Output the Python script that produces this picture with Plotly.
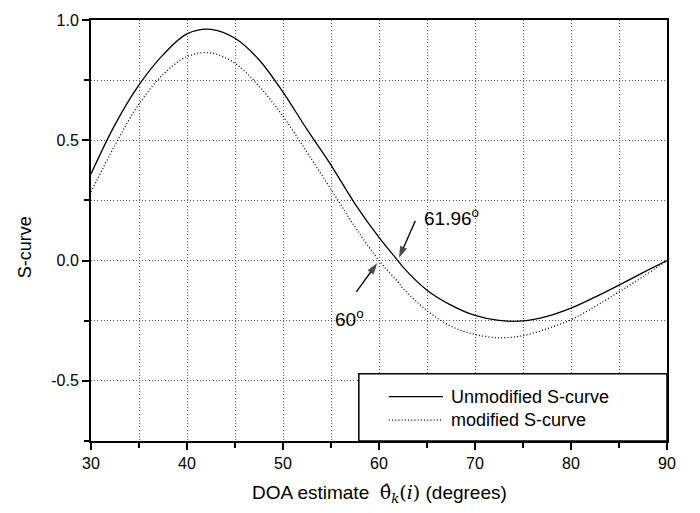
import plotly.graph_objects as go

# DOA estimate (degrees)
doa = [30, 32.5, 35, 37.5, 40, 42.5, 45, 47.5, 50, 52.5, 55, 57.5, 60,
       61.96, 62.5, 65, 67.5, 70, 72.5, 75, 77.5, 80, 82.5, 85, 87.5, 90]

# S-curve values
unmodified = [0.36, 0.565, 0.73, 0.855, 0.942, 0.961, 0.924, 0.835, 0.70, 0.545,
              0.397, 0.236, 0.096, 0.0, -0.027, -0.123, -0.185, -0.228, -0.249,
              -0.251, -0.232, -0.198, -0.152, -0.102, -0.05, 0.0]
modified = [0.285, 0.48, 0.651, 0.773, 0.848, 0.863, 0.82, 0.725, 0.60, 0.45,
            0.296, 0.14, 0.0, -0.088, -0.115, -0.208, -0.273, -0.307, -0.321,
            -0.312, -0.283, -0.246, -0.191, -0.13, -0.067, 0.0]

series_names = ["Unmodified S-curve", "modified S-curve"]

# zero crossings of the two curves and where their pointer arrows start
zero_unmod = 61.96
zero_mod = 60.0
arrow_unmod_tail = (63.78, 0.165)
arrow_mod_tail = (57.64, -0.13)

y_tickvals = [1.0, 0.5, 0.0, -0.5]
y_ticktext = ["1.0", "0.5", "0.0", "-0.5"]
x_tickvals = [30, 40, 50, 60, 70, 80, 90]

FONT = "Arial, 'Liberation Sans', Helvetica, sans-serif"
DOTS = "1px,2.2px"

fig = go.Figure()
fig.add_trace(go.Scatter(x=doa, y=unmodified, mode="lines", name=series_names[0],
                         line=dict(color="black", width=1.3, shape="spline", smoothing=1.0)))
fig.add_trace(go.Scatter(x=doa, y=modified, mode="lines", name=series_names[1],
                         line=dict(color="black", width=1.3, dash=DOTS,
                                   shape="spline", smoothing=1.0)))

# pointer arrows onto the zero crossings
for tail, tip_x in [(arrow_unmod_tail, zero_unmod), (arrow_mod_tail, zero_mod)]:
    fig.add_trace(go.Scatter(
        x=[tail[0], tip_x], y=[tail[1], 0.0], mode="lines+markers",
        line=dict(color="black", width=1.3),
        marker=dict(symbol=["circle", "arrow"], size=[0, 12], color="black",
                    angleref="previous", standoff=3, line=dict(width=0)),
        hoverinfo="skip"))

axis_common = dict(
    showline=True, linecolor="black", linewidth=2, mirror=True,
    ticks="outside", ticklen=7, tickwidth=1.5, tickcolor="black",
    showgrid=True, gridcolor="#555", gridwidth=1, griddash=DOTS,
    zeroline=False, tickfont=dict(family=FONT, size=16, color="black"),
)

fig.update_xaxes(range=[30, 90], tickvals=x_tickvals,
                 minor=dict(dtick=5, tick0=30, ticks="outside", ticklen=5,
                            tickcolor="black", showgrid=True, gridcolor="#555",
                            griddash=DOTS),
                 **axis_common)
fig.update_yaxes(range=[-0.75, 1.0], tickvals=y_tickvals, ticktext=y_ticktext,
                 minor=dict(dtick=0.25, tick0=0, ticks="outside", ticklen=5,
                            tickcolor="black", showgrid=True, gridcolor="#555",
                            griddash=DOTS),
                 **axis_common)

annotations = [
    # axis titles
    dict(text="S-curve", textangle=-90, xref="paper", yref="y", x=0, y=0.055,
         xanchor="center", yanchor="middle", xshift=-66, showarrow=False,
         font=dict(family=FONT, size=18, color="black")),
    dict(text="DOA estimate  <span style='font-family:DejaVu Serif'>θ̂<sub><i>k</i></sub>(<i>i</i>)</span> (degrees)",
         xref="paper", yref="paper", x=0.5, y=0, yshift=-52,
         xanchor="center", yanchor="middle", showarrow=False,
         font=dict(family=FONT, size=19, color="black")),
    # zero-crossing labels
    dict(text="61.96<sup>o</sup>", x=64.45, y=0.18, xanchor="left", yanchor="middle",
         showarrow=False, font=dict(family=FONT, size=19, color="black")),
    dict(text="60<sup>o</sup>", x=55.2, y=-0.24, xanchor="left", yanchor="middle",
         showarrow=False, font=dict(family=FONT, size=19, color="black")),
]

# legend box in the lower-right corner of the plot area
LX0, LX1 = 0.465, 1.0
LY0, LY1 = 0.0, 0.16
legend_rows = [0.66, 0.31]  # fraction of legend height, top row first
shapes = [dict(type="rect", xref="paper", yref="paper", x0=LX0, x1=LX1, y0=LY0, y1=LY1,
               line=dict(color="black", width=1.5), fillcolor="white", layer="above")]
for i, name in enumerate(series_names):
    yy = LY0 + (LY1 - LY0) * legend_rows[i]
    shapes.append(dict(type="line", xref="paper", yref="paper",
                       x0=LX0 + 0.052, x1=LX0 + 0.146, y0=yy, y1=yy, layer="above",
                       line=dict(color="black", width=1.3, dash=None if i == 0 else DOTS)))
    annotations.append(dict(text=name, xref="paper", yref="paper", x=LX0 + 0.156, y=yy,
                            xanchor="left", yanchor="middle", showarrow=False,
                            font=dict(family=FONT, size=18, color="black")))

fig.update_layout(
    width=700, height=513,
    margin=dict(l=91, r=33, t=15, b=72),
    paper_bgcolor="white", plot_bgcolor="white",
    font=dict(family=FONT, color="black"),
    annotations=annotations, shapes=shapes, showlegend=False,
)

fig.write_html("out.html")
